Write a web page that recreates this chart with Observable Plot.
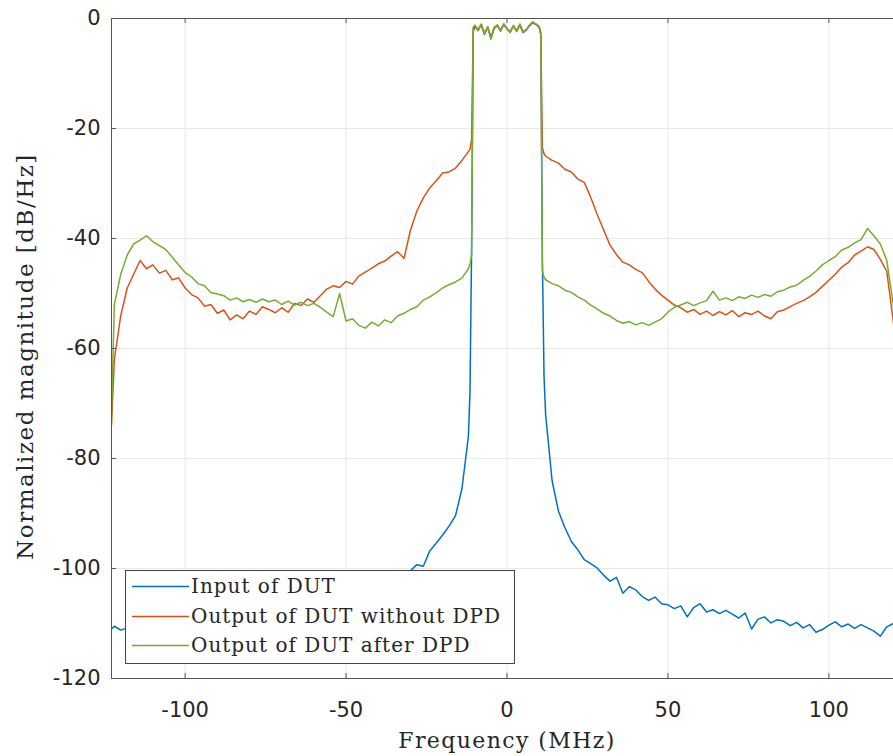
<!DOCTYPE html>
<html>
<head>
<meta charset="utf-8">
<script src="https://cdn.jsdelivr.net/npm/d3@7"></script>
<script src="https://cdn.jsdelivr.net/npm/@observablehq/plot@0.6"></script>
<style>
  html, body { margin: 0; padding: 0; background: #fff; }
  #wrap { position: relative; width: 893px; height: 756px; overflow: hidden; }
  #chart svg { max-width: none !important; display: block; }
  #legend { position: absolute; left: 125px; top: 570px; width: 390px; height: 94px; box-sizing: border-box;
            border: 1px solid #444; background: #fff; font-family: "DejaVu Serif", serif; font-size: 20px; color: #262626; }
  .row { position: absolute; left: 0; height: 28px; width: 100%; }
  .row svg { position: absolute; left: 6px; top: 13px; }
  .row span { position: absolute; left: 65px; top: 0; line-height: 28px; white-space: nowrap; letter-spacing: 1px; }
</style>
</head>
<body>
<div id="wrap"><div id="chart"></div><div id="legend"></div></div>
<script>
// Frequency grid (MHz)
const freqLeft = [
  -122.88, -122, -120, -118, -116, -114, -112, -110, -108, -106,
  -104, -102, -100, -98, -96, -94, -92, -90, -88, -86,
  -84, -82, -80, -78, -76, -74, -72, -70, -68, -66,
  -64, -62, -60, -58, -56, -54, -52, -50, -48, -46,
  -44, -42, -40, -38, -36, -34, -32, -30, -28, -26,
  -24, -22, -20, -18, -16, -14, -12
];
const freqCenter = [
  -11.5, -11, -10.5, -10, -9, -8, -7, -6, -5, -4,
  -3, -2, -1, 0, 1, 2, 3, 4, 5, 6,
  7, 8, 9, 10, 10.5, 11, 11.5
];
const freqRight = [
  12, 14, 16, 18, 20, 22, 24, 26, 28, 30,
  32, 34, 36, 38, 40, 42, 44, 46, 48, 50,
  52, 54, 56, 58, 60, 62, 64, 66, 68, 70,
  72, 74, 76, 78, 80, 82, 84, 86, 88, 90,
  92, 94, 96, 98, 100, 102, 104, 106, 108, 110,
  112, 114, 116, 118, 120, 122, 122.88
];

// Input of DUT (dB/Hz)
const inputDUT = [
  -111, -110.5, -111.2, -110.8, -110.3, -110.9, -110.1, -110.6, -109.8, -110.2,
  -109.5, -109.9, -109.1, -109.4, -108.7, -109, -108.3, -108.6, -107.9, -108.2,
  -107.4, -107.7, -106.9, -107.2, -106.4, -106.6, -105.8, -106, -105.2, -105.5,
  -104.6, -104.8, -104, -104.2, -103.4, -103.5, -102.8, -102.9, -102.2, -102.4,
  -101.8, -101.9, -101.3, -101.5, -100.9, -101, -100.7, -100.4, -99.3, -99.6,
  -96.8, -95.4, -93.9, -92.3, -90.4, -85.5, -76,
  -68, -42, -2.4, -1.5, -2.1, -1.2, -2.9, -1.6, -3.6, -1.8,
  -1.3, -2.3, -1.1, -1.9, -2.5, -1.4, -2.3, -1.2, -2.6, -2.1,
  -1.3, -0.8, -1.1, -1.6, -3, -44, -65,
  -72, -84, -89.6, -92.6, -95.1, -96.6, -98.4, -99.1, -99.9, -101.2,
  -102.3, -101.6, -104.5, -103.3, -103.9, -105.1, -105.8, -105.2, -106.4, -106.6,
  -107.3, -106.8, -108.8, -107.1, -106.4, -107.9, -107.5, -108.2, -107.6, -108.3,
  -109, -108.1, -111, -109.2, -108.8, -109.9, -109.3, -109.6, -110.4, -109.8,
  -110.8, -110.2, -111.6, -111.1, -110.3, -109.7, -110.6, -110.1, -110.9, -110.2,
  -110.8, -111.4, -112.3, -110.6, -110, -111.2, -110.5
];

// Output of DUT without DPD (dB/Hz)
const outputNoDPD = [
  -74, -62, -54, -49, -46.5, -44, -45.5, -44.8, -46.3, -45.8,
  -47.5, -47.2, -49, -50.2, -50.8, -52.3, -52, -53.6, -53, -54.8,
  -53.9, -54.6, -53.2, -53.8, -52.4, -52.9, -53.5, -52.6, -53.4, -51.8,
  -52.2, -51, -51.6, -50.4, -49.2, -48.6, -48.9, -47.8, -48.3, -46.8,
  -46.1, -45.4, -44.6, -44.1, -43.2, -42.4, -43.6, -38.5, -35, -32.6,
  -30.8, -29.5, -28.1, -27.9, -27.2, -25.8, -24.2,
  -23.8, -22, -1.8, -1.3, -2.2, -1.1, -2.6, -1.5, -3.4, -1.7,
  -1.2, -2.1, -1.0, -1.8, -2.4, -1.3, -2.2, -1.0, -2.4, -2.0,
  -1.2, -0.7, -1.0, -1.5, -2.8, -23.5, -24.6,
  -25, -25.8, -26.3, -27.4, -27.9, -29.2, -29.8, -32.5, -35.6, -38.4,
  -41.2, -42.9, -44.3, -44.8, -45.6, -46.2, -47.8, -49.2, -50.3, -51.2,
  -52.1, -52.6, -53.4, -52.9, -53.8, -53.2, -54, -53.3, -53.9, -53.1,
  -54.2, -53.5, -53.8, -53.2, -54.1, -54.6, -53.3, -53, -52.4, -51.8,
  -51.3, -50.6, -49.8, -48.7, -47.6, -46.5, -45.2, -44.4, -43, -42.3,
  -41.5, -42, -43.8, -46, -55, -65, -72
];

// Output of DUT after DPD (dB/Hz)
const outputDPD = [
  -72, -52, -46.5, -43, -41, -40.3, -39.5, -40.6, -41.3, -42,
  -43.4, -44.8, -46.2, -47, -48.2, -48.6, -49.8, -50.1, -50.4, -51.2,
  -50.8, -51.5, -51.1, -51.6, -51, -51.5, -51.2, -52, -51.4, -52.1,
  -51.6, -52.2, -51.8, -52.5, -53.4, -54.2, -50, -55, -54.6, -55.8,
  -56.3, -55.2, -55.9, -54.8, -55.3, -54.1, -53.6, -52.9, -52.4, -51.2,
  -50.6, -49.9, -49, -48.4, -47.9, -47.2, -45.5,
  -44.7, -43, -1.6, -1.2, -2, -1.0, -2.8, -1.5, -3.8, -1.6,
  -1.2, -2.2, -1.0, -1.8, -2.6, -1.3, -2.4, -1.1, -2.5, -2.0,
  -1.2, -0.6, -1.0, -1.5, -2.5, -46, -47,
  -47.5, -48.2, -48.6, -49.4, -49.8, -50.6, -51.2, -52.1, -52.8, -53.6,
  -54.1, -54.9, -55.4, -55.1, -55.7, -55.3, -55.8, -55.2, -54.6, -53.4,
  -52.5, -52.1, -51.6, -52.2, -51.7, -51.3, -49.6, -51.2, -50.8, -51.3,
  -50.6, -50.9, -50.3, -50.7, -50.2, -50.5, -49.7, -49.4, -48.8, -48.5,
  -47.6, -46.9, -45.9, -44.8, -44, -43.3, -42.1, -41.6, -40.8, -40.2,
  -38.2, -39.5, -41, -44, -52, -63, -70
];

const seriesNames = ["Input of DUT", "Output of DUT without DPD", "Output of DUT after DPD"];
const seriesColors = ["#0072BD", "#D95319", "#77AC30"];
const xTicks = [-100, -50, 0, 50, 100];
const yTicks = [0, -20, -40, -60, -80, -100, -120];
const xDomain = [-122.88, 122.88];
const yDomain = [-120, 0];
const xLabel = "Frequency (MHz)";
const yLabel = "Normalized magnitude [dB/Hz]";

const freq = freqLeft.concat(freqCenter, freqRight);
const seriesValues = [inputDUT, outputNoDPD, outputDPD];
const rows = [];
seriesValues.forEach((vals, k) => {
  freq.forEach((f, i) => rows.push({f, v: vals[i], s: seriesNames[k]}));
});

const tickLenX = 0.9;   // inward tick length in y-units
const tickLenY = 1.55;  // inward tick length in x-units

const chart = Plot.plot({
  width: 905,
  height: 756,
  marginLeft: 111,
  marginRight: 3,
  marginTop: 18,
  marginBottom: 78,
  x: {domain: xDomain},
  y: {domain: yDomain},
  color: {domain: seriesNames, range: seriesColors},
  style: {fontFamily: "DejaVu Sans, sans-serif", fontSize: "21px", color: "#262626", background: "#fff", maxWidth: "none"},
  marks: [
    Plot.ruleX(xTicks, {x: d => d, stroke: "#e8e8e8", strokeWidth: 1}),
    Plot.ruleY(yTicks, {y: d => d, stroke: "#e8e8e8", strokeWidth: 1}),
    ...seriesNames.map(name =>
      Plot.line(rows.filter(r => r.s === name), {x: "f", y: "v", stroke: "s", strokeWidth: 1.5, clip: true})
    ),
    Plot.frame({stroke: "#555", strokeWidth: 1}),
    Plot.ruleX(xTicks, {x: d => d, y1: yDomain[0], y2: yDomain[0] + tickLenX, stroke: "#555"}),
    Plot.ruleX(xTicks, {x: d => d, y1: yDomain[1], y2: yDomain[1] - tickLenX, stroke: "#555"}),
    Plot.ruleY(yTicks, {y: d => d, x1: xDomain[0], x2: xDomain[0] + tickLenY, stroke: "#555"}),
    Plot.axisX(xTicks, {tickSize: 0, tickPadding: 24, tickFormat: d => String(d), label: null, fontSize: 21}),
    Plot.axisY(yTicks, {tickSize: 0, tickPadding: 11, tickFormat: d => String(d), label: null, fontSize: 21}),
    Plot.text([xLabel], {text: d => d, frameAnchor: "bottom", lineAnchor: "middle", textAnchor: "middle", dy: 62,
      fontFamily: "DejaVu Serif, serif", fontSize: 22, fill: "#262626"}),
    Plot.text([yLabel], {text: d => d, frameAnchor: "left", lineAnchor: "middle", textAnchor: "middle", dx: -86, dy: 8, rotate: -90,
      fontFamily: "DejaVu Serif, serif", fontSize: 23, fill: "#262626"})
  ]
});
chart.style.maxWidth = "none";
document.getElementById("chart").appendChild(chart);
chart.querySelectorAll("text").forEach(t => {
  if (t.textContent === yLabel) t.style.letterSpacing = "1.5px";
  if (t.textContent === xLabel) t.style.letterSpacing = "1.4px";
});

// Legend overlay
const legend = document.getElementById("legend");
const rowTops = [1, 31, 60];
seriesNames.forEach((name, i) => {
  const r = document.createElement("div");
  r.className = "row";
  r.style.top = rowTops[i] + "px";
  r.innerHTML = `<svg width="57" height="3"><line x1="0" y1="1.5" x2="57" y2="1.5" stroke="${seriesColors[i]}" stroke-width="1.5"/></svg><span>${name}</span>`;
  legend.appendChild(r);
});
</script>
</body>
</html>
